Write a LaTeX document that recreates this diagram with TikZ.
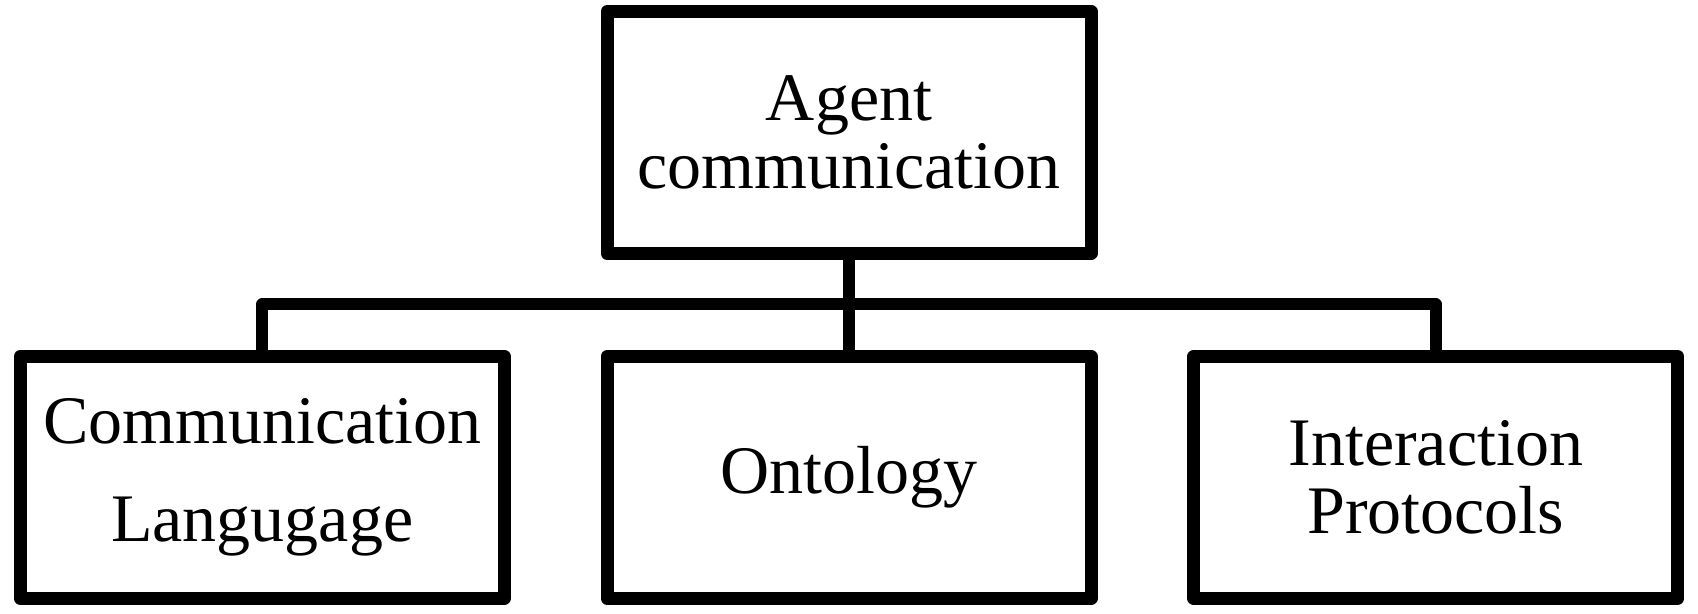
\documentclass[tikz,border=0pt]{standalone}
\usepackage{fontspec}
\setmainfont{Liberation Serif}
\usepackage{tikz}
\tikzstyle{agent_tree} = [level distance = 172.5pt, sibling distance = 293.4pt, edge from parent path = {(\tikzparentnode.south) -- ++(0pt, -22.3pt) -| (\tikzchildnode.north)}, edge from parent/.style = {draw, line width = 6pt, line join = round}]
\tikzstyle{agent_tree_box} = [rectangle, draw, line width = 6.5pt, line join = round, minimum width = 242pt, minimum height = 121pt, align = center, font = \fontsize{34}{34}\selectfont]
\begin{document}
\begin{tikzpicture}
        \useasboundingbox (0pt, 0pt) rectangle (849pt, -307pt);
        \begin{scope} [agent_tree]
            \node [style = {agent_tree_box}] (agent) at (424.5pt, -66.2pt) {Agent\\communication}
                child {
                    node [style = {agent_tree_box}, font = \fontsize{34}{49}\selectfont] (language) {Communication\\Langugage}
                }
                child {
                    node [style = {agent_tree_box}] (ontology) {Ontology}
                }
                child {
                    node [style = {agent_tree_box}] (protocols) {Interaction\\Protocols}
                };
        \end{scope}
    \end{tikzpicture}
\end{document}
